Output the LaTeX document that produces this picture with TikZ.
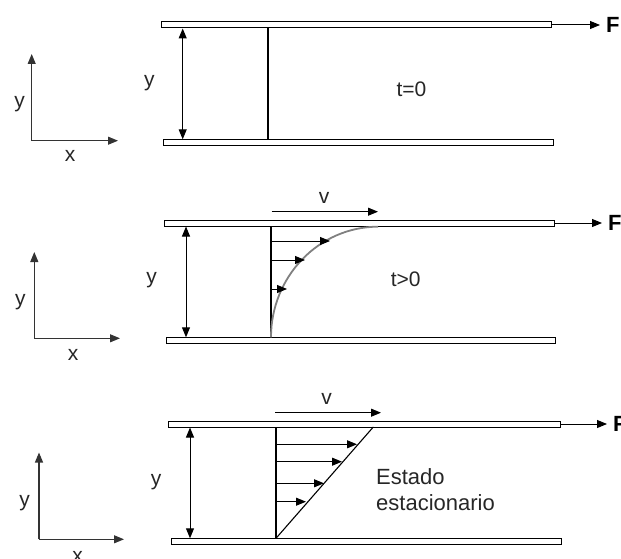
\documentclass[tikz,border=0pt]{standalone}
\usepackage{fontspec}
\setmainfont{Liberation Sans}
\usetikzlibrary{arrows.meta}
\tikzset{
  plate/.style={draw=black, fill=white, line width=1pt},
  axisline/.style={line width=1.1pt, draw=black!80, -{Triangle[length=10pt,width=8pt]}},
  gapline/.style={line width=1pt, {Triangle[length=10pt,width=8pt]}-{Triangle[length=10pt,width=8pt]}},
  profarrow/.style={line width=1pt, -{Triangle[length=10pt,width=8pt]}},
  forcearrow/.style={line width=1pt, -{Triangle[length=10pt,width=8pt]}},
  wall/.style={line width=1.8pt},
  lbl/.style={font=\fontsize{21}{24}\selectfont, text=black!85, inner sep=0pt},
  estlbl/.style={font=\fontsize{22}{26}\selectfont, text=black!85, inner sep=0pt, anchor=base west},
  flbl/.style={font=\bfseries\fontsize{22}{24}\selectfont, inner sep=0pt, anchor=west},
}
\begin{document}
\begin{tikzpicture}[x=1pt,y=-1pt]
\useasboundingbox (0,0) rectangle (621,559);

% ---------------- Panel 1 ----------------
\draw[plate] (161.7,22) rectangle (551,28);
\draw[plate] (163.3,139.3) rectangle (553.5,145.7);
\coordinate (a1o) at (31.7,140.7);
\coordinate (a1y) at (31.7,54);
\coordinate (a1x) at (118,140.7);
\draw[axisline] (a1o) -- (a1y);
\draw[axisline] (a1o) -- (a1x);
\node[lbl] (ay1) at (19.7,104) {y};
\node[lbl] (ax1) at (70,156) {x};
\coordinate (g1t) at (182.7,28.5);
\coordinate (g1b) at (182.7,139.3);
\draw[gapline] (g1t) -- (g1b);
\node[lbl] (gy1) at (149.3,83.3) {y};
\coordinate (w1t) at (268.3,28);
\coordinate (w1b) at (268.3,139.3);
\draw[wall] (w1t) -- (w1b);
\coordinate (f1s) at (551,25);
\coordinate (f1e) at (600,25);
\draw[forcearrow] (f1s) -- (f1e);
\node[flbl] (F1) at (606,25) {F};
\node[lbl] (t1) at (411.5,89.5) {t=0};

% ---------------- Panel 2 ----------------
\draw[plate] (164.3,220) rectangle (554.3,226);
\draw[plate] (166.7,337.3) rectangle (555,343.3);
\coordinate (a2o) at (34.3,338.3);
\coordinate (a2y) at (34.3,252);
\coordinate (a2x) at (120,338.3);
\draw[axisline] (a2o) -- (a2y);
\draw[axisline] (a2o) -- (a2x);
\node[lbl] (ay2) at (20.5,302.5) {y};
\node[lbl] (ax2) at (73,355) {x};
\coordinate (g2t) at (186,226.5);
\coordinate (g2b) at (186,337.3);
\draw[gapline] (g2t) -- (g2b);
\node[lbl] (gy2) at (151.7,280) {y};
\coordinate (w2t) at (271,226);
\coordinate (w2b) at (271,337.3);
\draw[wall] (w2t) -- (w2b);
\coordinate (f2s) at (554.3,223);
\coordinate (f2e) at (602,223);
\draw[forcearrow] (f2s) -- (f2e);
\node[flbl] (F2) at (608,223) {F};
\coordinate (v2s) at (271.7,211.7);
\coordinate (v2e) at (378,211.7);
\draw[profarrow] (v2s) -- (v2e);
\node[lbl] (vl2) at (324,198) {v};
\coordinate (c2b) at (271,337.3);
\coordinate (c2t) at (378,226.7);
\draw[line width=1.8pt, draw=black!50] (c2b) .. controls (271,276.5) and (318.9,226.7) .. (c2t);
\coordinate (p2a) at (271,241);
\coordinate (p2ae) at (330,241);
\coordinate (p2b) at (271,260);
\coordinate (p2be) at (305,260);
\coordinate (p2c) at (271,289);
\coordinate (p2ce) at (287,289);
\draw[profarrow] (p2a) -- (p2ae);
\draw[profarrow] (p2b) -- (p2be);
\draw[profarrow] (p2c) -- (p2ce);
\node[lbl] (t2) at (405.7,279) {t>0};

% ---------------- Panel 3 ----------------
\draw[plate] (168.3,421) rectangle (560,427);
\draw[plate] (171,538.3) rectangle (561,544.3);
\coordinate (a3o) at (39,539.3);
\coordinate (a3y) at (39,452.5);
\coordinate (a3x) at (124,539.3);
\draw[axisline] (a3o) -- (a3y);
\draw[axisline] (a3o) -- (a3x);
\node[lbl] (ay3) at (24.7,503) {y};
\node[lbl] (ax3) at (77.5,556.5) {x};
\coordinate (g3t) at (190,427.5);
\coordinate (g3b) at (190,538.3);
\draw[gapline] (g3t) -- (g3b);
\node[lbl] (gy3) at (156,481.7) {y};
\coordinate (w3t) at (276,427);
\coordinate (w3b) at (276,538.3);
\draw[wall] (w3t) -- (w3b);
\coordinate (f3s) at (561,424);
\coordinate (f3e) at (607,424);
\draw[forcearrow] (f3s) -- (f3e);
\node[flbl] (F3) at (613,424) {F};
\coordinate (v3s) at (275,412.7);
\coordinate (v3e) at (381,412.7);
\draw[profarrow] (v3s) -- (v3e);
\node[lbl] (vl3) at (326.7,399.3) {v};
\coordinate (d3b) at (276,538.3);
\coordinate (d3t) at (373.3,427);
\draw[line width=1.1pt] (d3b) -- (d3t);
\coordinate (p3a) at (276,444.3);
\coordinate (p3ae) at (357,444.3);
\coordinate (p3b) at (276,461.7);
\coordinate (p3be) at (342,461.7);
\coordinate (p3c) at (276,483.3);
\coordinate (p3ce) at (324,483.3);
\coordinate (p3d) at (276,501.7);
\coordinate (p3de) at (306,501.7);
\draw[profarrow] (p3a) -- (p3ae);
\draw[profarrow] (p3b) -- (p3be);
\draw[profarrow] (p3c) -- (p3ce);
\draw[profarrow] (p3d) -- (p3de);
\node[estlbl] (est1) at (376,484.3) {Estado};
\node[estlbl] (est2) at (376,510) {estacionario};
\end{tikzpicture}
\end{document}
